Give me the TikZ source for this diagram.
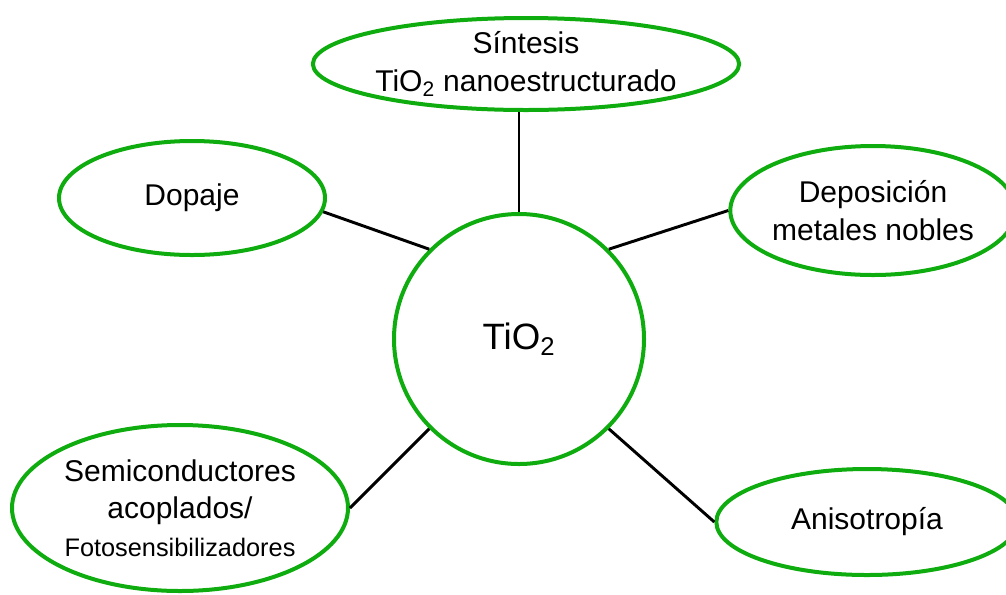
\documentclass[tikz,border=0pt]{standalone}
\usepackage{fontspec}
\setmainfont{Liberation Sans}
\usetikzlibrary{shapes.geometric}

\definecolor{mapgreen}{RGB}{14,172,14}

\tikzset{
	hub/.style={circle,draw=mapgreen,line width=3pt,inner sep=0pt,minimum size=187.5pt,font=\fontsize{27.5}{32}\selectfont},
	topic/.style={ellipse,draw=mapgreen,line width=3pt,inner sep=0pt,align=center,font=\fontsize{22.5}{28}\selectfont},
	link/.style={line width=2.2pt,black}
}

\begin{document}
\begin{tikzpicture}[x=0.75pt,y=-0.75pt]
            		\useasboundingbox (0,0) rectangle (1006,594);
            		\clip (0,0) rectangle (1006,594);

            		\node (tio2) at (519,339) [hub] {TiO\textsubscript{2}};

            		\node (sintesis) at (526,64) [topic,minimum width=313.5pt,minimum height=69pt] {S\'intesis\\TiO\textsubscript{2} nanoestructurado};
            		\node (dopaje) at (192,198) [topic,minimum width=199.5pt,minimum height=85.5pt] {Dopaje};
            		\node (deposicion) at (873,210.5) [topic,minimum width=207pt,minimum height=96.75pt] {Deposici\'on\\metales nobles};
            		\node (semicond) at (180,508) [topic,minimum width=252pt,minimum height=124.5pt] {Semiconductores\\acoplados/\\{\fontsize{19}{22}\selectfont Fotosensibilizadores}};
            		\node (aniso) at (867,522) [topic,minimum width=226pt,minimum height=79.5pt] {Anisotrop\'ia};


            		\draw[link] (tio2.north) -- (tio2.north |- sintesis.south);
            		\draw[link] (tio2.135) -- (dopaje.-6);
            		\draw[link] (tio2.45) -- (deposicion.west);
            		\draw[link] (tio2.225) -- (semicond.east);
            		\draw[link] (tio2.-45) -- (aniso.west);

        		\end{tikzpicture}
\end{document}
